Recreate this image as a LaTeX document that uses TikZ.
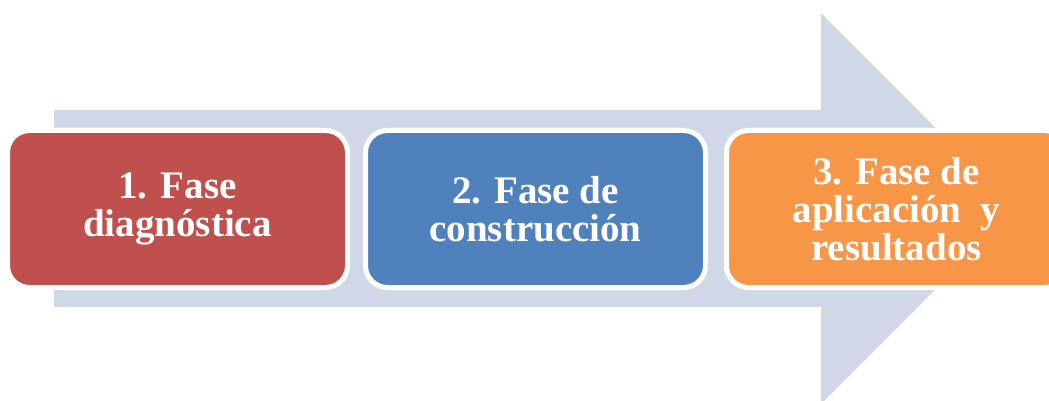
\documentclass[tikz,border=0pt]{standalone}
\usepackage{fontspec}
\setmainfont{Liberation Serif}
\usepackage{xcolor}
\usetikzlibrary{positioning}

\definecolor{flecha}{RGB}{208,216,232}
\definecolor{rojo}{RGB}{192,80,77}
\definecolor{azul}{RGB}{79,129,189}
\definecolor{naranja}{RGB}{247,150,70}

\tikzset{
  fasebox/.style={draw=white, line width=5pt, rounded corners=22pt,
    minimum width=340pt, minimum height=157pt, inner sep=0pt,
    align=center, text=white,
    font=\fontsize{39}{38}\selectfont\bfseries}
}

\begin{document}
\begin{tikzpicture}[x=1pt, y=-1pt]
\clip (0,0) rectangle (1049,401);
% Big arrow behind
\fill[flecha] (54,110) -- (821,110) -- (821,13) -- (1016,208.5)
  -- (821,404) -- (821,307) -- (54,307) -- cycle;
% Phases
\node[fasebox, fill=rojo, anchor=west] (fase1) at (5,209)
  {1. Fase\\diagnóstica};
\node[fasebox, fill=azul, right=13pt of fase1] (fase2)
  {2. Fase de\\construcción};
\node[fasebox, fill=naranja, right=16pt of fase2] (fase3)
  {3. Fase de\\aplicación \ y\\resultados};
\end{tikzpicture}
\end{document}
